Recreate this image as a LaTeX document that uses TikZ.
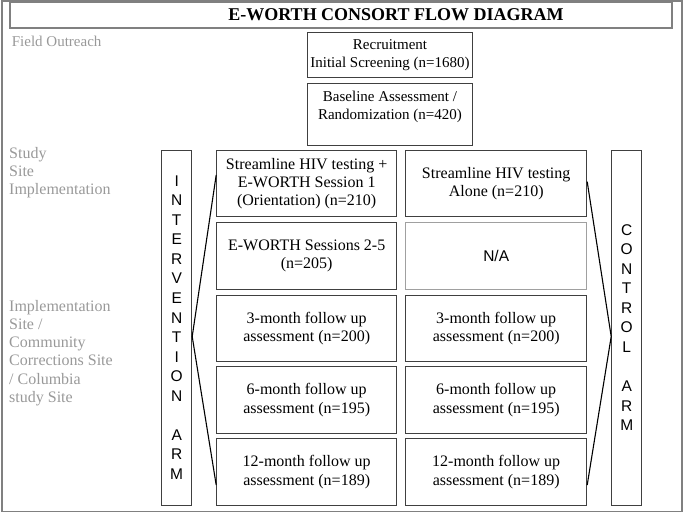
\documentclass[tikz,border=0pt]{standalone}
\usepackage{fontspec}
\setmainfont{Liberation Serif}
\setsansfont{Liberation Sans}
\definecolor{frameline}{HTML}{808080}
\definecolor{boxline}{HTML}{404040}
\definecolor{naline}{HTML}{A0A0A0}
\definecolor{sitetext}{HTML}{999999}
\tikzset{
  stepbox/.style={draw=boxline, line width=1pt, inner sep=0pt, minimum width=180, minimum height=66.5, align=center, font=\fontsize{16}{18.3}\selectfont},
  topbox/.style={stepbox, minimum width=165.7, font=\fontsize{15}{18}\selectfont},
  armbox/.style={draw=boxline, line width=1pt, inner sep=0pt, minimum width=30, minimum height=355, align=center, font=\sffamily\fontsize{15.5}{19.55}\selectfont},
  sitelabel/.style={text=sitetext, inner sep=0pt, align=left, font=\fontsize{16}{18.3}\selectfont},
  armline/.style={line width=1.1pt}
}
\begin{document}
\begin{tikzpicture}[x=1pt, y=-1pt]
  \useasboundingbox (0,0) rectangle (685,516);
  \draw [frameline, line width=1.6pt] (2,1) rectangle (682,511.5);
  \node [draw=frameline, line width=1.2pt, minimum width=662, minimum height=26, inner sep=0pt, font=\bfseries\fontsize{18}{20}\selectfont] (title) at (341,15) {\hspace*{110pt}E-WORTH CONSORT FLOW DIAGRAM};

  \node [sitelabel, font=\fontsize{15}{18}\selectfont, anchor=base west] (outreach) at (11.7,47) {Field Outreach};
  \node [sitelabel, anchor=west] (studysite) at (9,172.5) {Study\\Site\\Implementation};
  \node [sitelabel, anchor=west] (implsite) at (9,353) {Implementation\\Site /\\Community\\Corrections Site\\/ Columbia\\study Site};

  \node [topbox, minimum height=45.7] (recruit) at (390,55) {Recruitment\\Initial Screening (n=1680)};
  \node [topbox, minimum height=61] (baseline) at (390,114.5) {Baseline Assessment /\\Randomization (n=420)\\\mbox{}};

  \node [armbox] (intarm) at (176.7,327.5) {I\\N\\T\\E\\R\\V\\E\\N\\T\\I\\O\\N\\\mbox{}\\A\\R\\M};
  \node [armbox] (ctlarm) at (626.7,327.5) {C\\O\\N\\T\\R\\O\\L\\\mbox{}\\A\\R\\M};

  \node [stepbox] (i1) at (306.7,183.5) {Streamline HIV testing +\\E-WORTH Session 1\\(Orientation) (n=210)};
  \node [stepbox] (i2) at (306.7,256) {E-WORTH Sessions 2-5\\(n=205)};
  \node [stepbox] (i3) at (306.7,328.5) {3-month follow up\\assessment (n=200)};
  \node [stepbox] (i4) at (306.7,400) {6-month follow up\\assessment (n=195)};
  \node [stepbox] (i5) at (306.7,472) {12-month follow up\\assessment (n=189)};

  \node [stepbox, minimum width=181] (c1) at (496.2,183.5) {Streamline HIV testing\\Alone (n=210)};
  \node [stepbox, minimum width=181, draw=naline, font=\sffamily\fontsize{15.5}{18}\selectfont] (c2) at (496.2,256) {N/A};
  \node [stepbox, minimum width=181] (c3) at (496.2,328.5) {3-month follow up\\assessment (n=200)};
  \node [stepbox, minimum width=181] (c4) at (496.2,400) {6-month follow up\\assessment (n=195)};
  \node [stepbox, minimum width=181] (c5) at (496.2,472) {12-month follow up\\assessment (n=189)};

  \draw [armline] ([yshift=8.5]i1.west) -- ([yshift=-9]intarm.east) -- ([yshift=-13]i5.west);
  \draw [armline] ([yshift=1.8]c1.east) -- ([yshift=-9]ctlarm.west) -- ([yshift=-13]c5.east);
\end{tikzpicture}
\end{document}
